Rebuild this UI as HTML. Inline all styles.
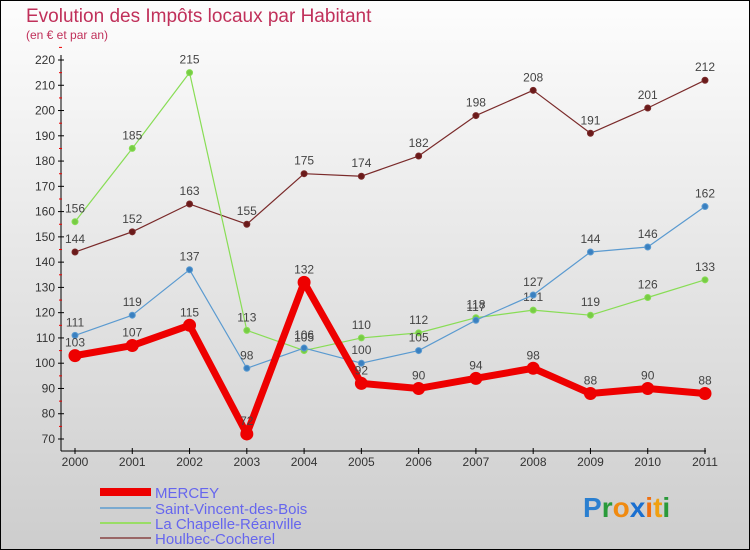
<!DOCTYPE html>
<html><head><meta charset="utf-8"><style>
body{margin:0}
svg{display:block;font-family:"Liberation Sans",sans-serif}
</style></head><body>
<svg width="750" height="550" viewBox="0 0 750 550">
<defs><linearGradient id="bg" x1="0" y1="0" x2="0" y2="1"><stop offset="0" stop-color="#fdfdfd"/><stop offset="1" stop-color="#cdcdcd"/></linearGradient></defs>
<rect x="0.5" y="0.5" width="749" height="549" fill="url(#bg)" stroke="#000"/>
<text x="26" y="22" font-size="19" fill="#c0305a">Evolution des Impôts locaux par Habitant</text>
<text x="26" y="39" font-size="12" fill="#c0305a">(en € et par an)</text>
<g id="axes"></g>
<g id="series"></g>
<g font-size="15" fill="#6666ee">
<rect x="100" y="488" width="51" height="8" fill="#e00"/>
<text x="155" y="498">MERCEY</text>
<line x1="100" y1="508" x2="151" y2="508" stroke="#7aaad0" stroke-width="2"/>
<text x="155" y="514">Saint-Vincent-des-Bois</text>
<line x1="100" y1="523" x2="151" y2="523" stroke="#99dd66" stroke-width="2"/>
<text x="155" y="529">La Chapelle-Réanville</text>
<line x1="100" y1="538" x2="151" y2="538" stroke="#996666" stroke-width="2"/>
<text x="155" y="544">Houlbec-Cocherel</text>
</g>
<g font-size="28" font-weight="bold">
<text x="583" y="517"><tspan fill="#2a7fd0">P</tspan><tspan fill="#2a9a3a">r</tspan><tspan fill="#f08a10">o</tspan><tspan fill="#1a6fd0">x</tspan><tspan fill="#f07010">i</tspan><tspan fill="#f0a010">t</tspan><tspan fill="#2a9a3a">i</tspan></text>
</g>
</svg>
<script>
const years=[2000,2001,2002,2003,2004,2005,2006,2007,2008,2009,2010,2011];
const yTicks=[70,80,90,100,110,120,130,140,150,160,170,180,190,200,210,220];
const mercey=[103,107,115,72,132,92,90,94,98,88,90,88];
const saintVincent=[111,119,137,98,106,100,105,117,127,144,146,162];
const laChapelle=[156,185,215,113,105,110,112,118,121,119,126,133];
const houlbec=[144,152,163,155,175,174,182,198,208,191,201,212];
const NS="http://www.w3.org/2000/svg";
function xS(i){return 75+i*(705-75)/11;}
function yS(v){return 439-(v-70)*(439-60)/150;}
function mk(tag,attrs,parent){const e=document.createElementNS(NS,tag);for(const k in attrs)e.setAttribute(k,attrs[k]);parent.appendChild(e);return e;}
const ax=document.getElementById('axes');
const yl=mk('line',{x1:61,y1:55,x2:61,y2:451,stroke:'#000'},ax);


const xl=mk('line',{x1:61,y1:451,x2:706,y2:451,stroke:'#000'},ax);


yTicks.forEach(v=>{const y=yS(v);
 mk('line',{x1:58,y1:y,x2:64,y2:y,stroke:'#000'},ax);
 mk('line',{x1:59,y1:y-12.6,x2:62,y2:y-12.6,stroke:'#e00'},ax);
 const t=mk('text',{x:55,y:y+4,'text-anchor':'end','font-size':12,fill:'#333'},ax);t.textContent=v;
 
 });
years.forEach((yr,i)=>{const x=xS(i);
 mk('line',{x1:x,y1:448,x2:x,y2:454,stroke:'#000'},ax);
 const t=mk('text',{x:x,y:466,'text-anchor':'middle','font-size':12,fill:'#333'},ax);t.textContent=yr;
 
 });
const sg=document.getElementById('series');
function draw(vals,color,w,r,name,dot){
 const pts=vals.map((v,i)=>xS(i)+','+yS(v)).join(' ');
 const pl=mk('polyline',{points:pts,fill:'none',stroke:color,'stroke-width':w,'stroke-linejoin':'round'},sg);
 
 
 vals.forEach((v,i)=>{const c=mk('circle',{cx:xS(i),cy:yS(v),r:r,fill:dot,stroke:color},sg);
  
  
  const t=mk('text',{x:xS(i),y:yS(v)-9,'text-anchor':'middle','font-size':12,fill:'#444'},sg);t.textContent=v;
  
  });
}
draw(houlbec,'#7a2a2a',1.2,3,'houlbec','#6a1a1a');
draw(laChapelle,'#88dd55',1.2,3,'la-chapelle','#77cc44');
draw(saintVincent,'#5a9ad0',1.2,3,'saint-vincent','#3a80c0');
draw(mercey,'#ee0000',7,6,'mercey','#ee0000');
</script>
</body></html>
